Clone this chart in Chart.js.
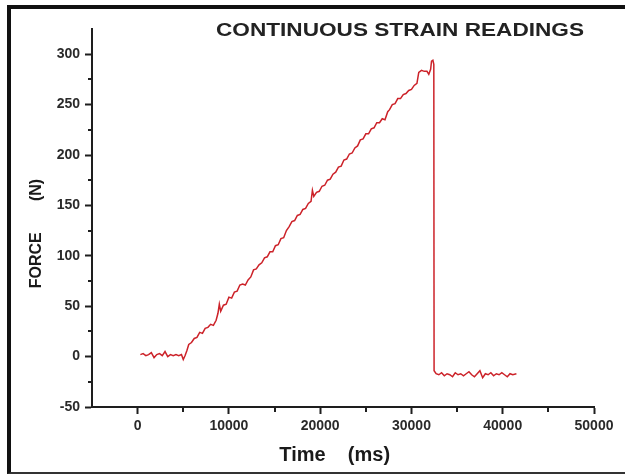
<!DOCTYPE html>
<html>
<head>
<meta charset="utf-8">
<script src="https://cdn.jsdelivr.net/npm/chart.js@4/dist/chart.umd.min.js"></script>
<style>
    html, body { margin: 0; padding: 0; background: #fff; }
    #wrap { position: relative; width: 625px; height: 476px; overflow: hidden; }
    #frame {
        position: absolute; left: 7px; top: 5px; width: 640px; height: 463px;
        border-left: 4px solid #111; border-top: 4px solid #111; border-bottom: 2px solid #333;
        pointer-events: none;
    }
</style>
</head>
<body>
<div id="wrap">
    <canvas id="strainChart" width="625" height="476"></canvas>
    <div id="frame"></div>
</div>
<script>
// readings
const timeMs = [
    300, 600, 900, 1200, 1500, 1800, 2100, 2400, 2700, 3000, 3300, 3600, 3900, 4200, 4500, 4800, 5000, 5200,
    5400, 5600, 5900, 6200, 6500, 6800, 7100, 7400, 7700, 8000, 8300, 8600, 8800, 8950, 9100, 9400, 9700,
    10000, 10300, 10600, 10900, 11200, 11500, 11800, 12100, 12400, 12700, 13000, 13300, 13600, 13900,
    14200, 14500, 14800, 15100, 15400, 15700, 16000, 16300, 16600, 16900, 17200, 17500, 17800, 18100,
    18400, 18700, 19000, 19150, 19300, 19600, 19900, 20200, 20500, 20800, 21100, 21400, 21700, 22000,
    22300, 22600, 22900, 23200, 23500, 23800, 24100, 24400, 24700, 25000, 25300, 25600, 25900, 26200,
    26500, 26800, 27100, 27400, 27600, 27900, 28200, 28500, 28800, 29100, 29400, 29700, 30000, 30300,
    30600, 30800, 31100, 31400, 31700, 31900, 32100, 32200, 32350, 32450, 32480,
    32700, 33000, 33300, 33600, 33900, 34200, 34500, 34800, 35100, 35400, 35700, 36000, 36300, 36600,
    36900, 37200, 37500, 37800, 38100, 38400, 38700, 39000, 39300, 39600, 39900, 40200, 40500, 40800,
    41100, 41500
];
const forceN = [
    2, 3, 1, 2, 4, -1, 2, 3, 1, 5, 0, 2, 1, 2, 1, 2, -3, 1,
    6, 12, 14, 18, 19, 24, 23, 28, 29, 32, 31, 36, 43, 52, 45, 51, 52,
    59, 58, 64, 65, 71, 72, 71, 76, 79, 86, 87, 91, 93, 98,
    99, 104, 104, 110, 111, 117, 118, 125, 129, 134, 135, 140, 141, 146,
    147, 152, 154, 165, 159, 163, 164, 169, 170, 175, 176, 181, 183, 188,
    189, 195, 196, 201, 202, 207, 209, 215, 216, 221, 221, 226, 227, 232,
    232, 236, 235, 243, 245, 250, 251, 256, 256, 260, 261, 264, 265, 269,
    271, 282, 284, 283, 283, 280, 285, 293, 294, 290, -14,
    -17, -18, -16, -19, -17, -18, -20, -16, -18, -17, -19, -17, -15, -18,
    -20, -17, -14, -21, -17, -18, -16, -19, -17, -18, -16, -18, -20, -17,
    -18, -17
];

const xTicks = [0, 10000, 20000, 30000, 40000, 50000];
const xMinorTicks = [5000, 15000, 25000, 35000, 45000];
const yTicks = [-50, 0, 50, 100, 150, 200, 250, 300];
const yMinorTicks = [-25, 25, 75, 125, 175, 225, 275];

const chartTitle = "CONTINUOUS STRAIN READINGS";
const xTitle = "Time\u00a0\u00a0\u00a0\u00a0(ms)\u00a0\u00a0\u00a0";
const yTitle = "FORCE\u00a0\u00a0\u00a0\u00a0\u00a0\u00a0\u00a0(N)\u00a0\u00a0\u00a0\u00a0\u00a0\u00a0\u00a0";

const axisColor = "#1e1e1e";

// minor ticks (shorter) and the wide title
const extrasPlugin = {
    id: "extras",
    afterDraw(chart) {
        const ctx = chart.ctx;
        const xs = chart.scales.x, ys = chart.scales.y;
        ctx.save();
        ctx.strokeStyle = axisColor;
        ctx.lineWidth = 2;
        ctx.beginPath();
        xMinorTicks.forEach(v => {
            const px = Math.round(xs.getPixelForValue(v));
            ctx.moveTo(px, ys.bottom);
            ctx.lineTo(px, ys.bottom + 5);
        });
        yMinorTicks.forEach(v => {
            const py = Math.round(ys.getPixelForValue(v));
            ctx.moveTo(xs.left - 4, py);
            ctx.lineTo(xs.left, py);
        });
        ctx.stroke();

        ctx.fillStyle = "#222";
        ctx.font = "bold 19px 'Liberation Sans', Arial, sans-serif";
        ctx.textBaseline = "middle";
        const w = ctx.measureText(chartTitle).width;
        ctx.translate(216, 31);
        ctx.scale(368 / w, 1);
        ctx.fillText(chartTitle, 0, 0);
        ctx.restore();
    }
};

const ctx = document.getElementById("strainChart").getContext("2d");

new Chart(ctx, {
    type: "line",
    data: {
        datasets: [
            {
                data: timeMs.map((t, i) => ({ x: t, y: forceN[i] })),
                borderColor: "#cc2229",
                borderWidth: 1.5,
                pointRadius: 0,
                fill: false,
                tension: 0
            }
        ]
    },
    options: {
        responsive: false,
        animation: false,
        layout: { padding: { left: 12, right: 31, top: 29, bottom: 8 } },
        plugins: {
            legend: { display: false },
            tooltip: { enabled: false }
        },
        scales: {
            x: {
                type: "linear",
                min: -5000,
                max: 50000,
                afterBuildTicks: scale => { scale.ticks = xTicks.map(v => ({ value: v })); },
                afterFit: scale => { scale.height = 61; },
                grid: { drawOnChartArea: false, drawTicks: true, tickLength: 7, tickWidth: 2, tickColor: axisColor },
                border: { display: true, color: axisColor, width: 2 },
                ticks: {
                    padding: 4,
                    maxRotation: 0,
                    color: "#2a2a2a",
                    callback: v => String(v),
                    font: { family: "'Liberation Sans', Arial, sans-serif", size: 14, weight: "bold" }
                },
                title: {
                    display: true,
                    text: xTitle,
                    color: "#1a1a1a",
                    padding: { top: 0, bottom: 1 },
                    font: { family: "'Liberation Sans', Arial, sans-serif", size: 20, weight: "bold" }
                }
            },
            y: {
                min: -50,
                max: 325,
                afterBuildTicks: scale => { scale.ticks = yTicks.map(v => ({ value: v })); },
                afterFit: scale => { scale.width = 80; },
                grid: { drawOnChartArea: false, drawTicks: true, tickLength: 7, tickWidth: 2, tickColor: axisColor },
                border: { display: true, color: axisColor, width: 2 },
                ticks: {
                    padding: 5,
                    color: "#2a2a2a",
                    callback: v => String(v),
                    font: { family: "'Liberation Sans', Arial, sans-serif", size: 14, weight: "bold" }
                },
                title: {
                    display: true,
                    text: yTitle,
                    color: "#1a1a1a",
                    padding: { top: 15, bottom: 0 },
                    font: { family: "'Liberation Sans', Arial, sans-serif", size: 16, weight: "bold" }
                }
            }
        }
    },
    plugins: [extrasPlugin]
});
</script>
</body>
</html>
